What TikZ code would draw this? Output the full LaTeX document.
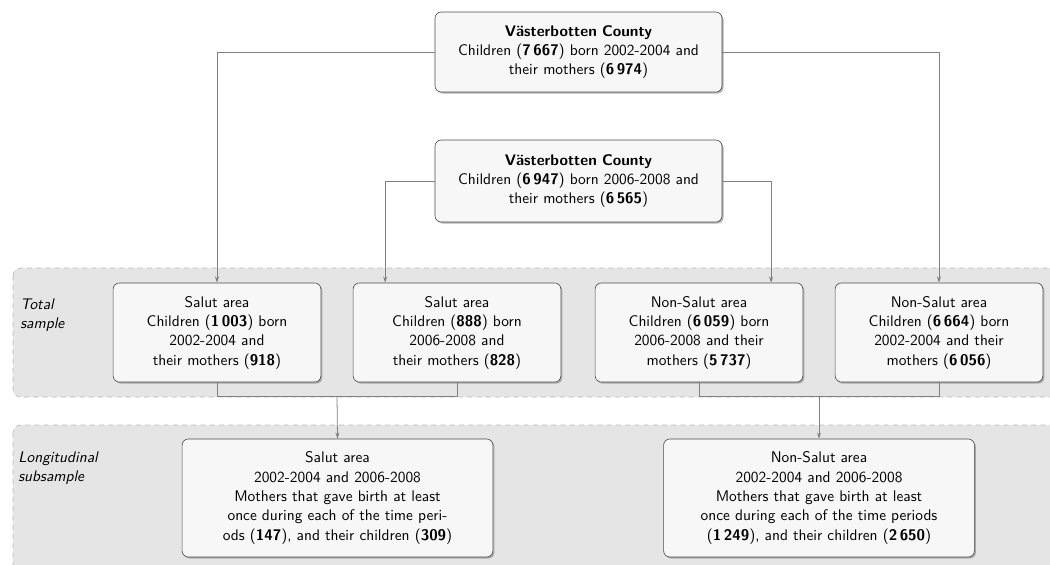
\documentclass[tikz,border=0pt]{standalone}
\usepackage{tikz}
\usetikzlibrary{arrows.meta, calc, shadows}

\tikzset{
	box/.style={draw=black!70, fill=gray!6, rounded corners=4pt, align=center,
		font=\sffamily\fontsize{10}{12.6}\selectfont, inner xsep=4pt, inner ysep=2pt,
		drop shadow={shadow xshift=1pt, shadow yshift=-1pt, opacity=0.6, fill=black!50}},
	rowbox/.style={box, text width=127pt, minimum height=64.4pt},
	longbox/.style={box, text width=194pt, minimum height=76.7pt},
	countybox/.style={box, text width=178.5pt},
	panel/.style={draw=gray!55, dashed, fill=gray!20, rounded corners=5pt},
	conn/.style={draw=gray, line width=0.5pt},
	connarr/.style={conn, -{Stealth[length=4pt,width=2.6pt]}},
	grouplabel/.style={font=\sffamily\itshape\fontsize{10}{12.6}\selectfont, align=left, anchor=west, inner sep=0pt}
}

\begin{document}
\begin{tikzpicture}[x=0.65pt, y=-0.65pt, line cap=round, line join=round]
				\useasboundingbox (0,0) rectangle (1050,564);
				
				% sample panels
				\draw[panel] (13,268) rectangle (1070,397);
				\draw[panel] (13,425) rectangle (1070,590);
				\node[grouplabel] (totlab) at (20,315) {Total\\sample};
				\node[grouplabel] (longlab) at (18,468) {Longitudinal\\subsample};
				
				% county
				\node[countybox, minimum height=52pt] (countyA) at (578.5,52)
					{\textbf{Västerbotten County}\\Children (\textbf{7\,667}) born 2002-2004 and\\their mothers (\textbf{6\,974})};
				\node[countybox, minimum height=53.3pt] (countyB) at (578.5,181)
					{\textbf{Västerbotten County}\\Children (\textbf{6\,947}) born 2006-2008 and\\their mothers (\textbf{6\,565})};
				
				% total sample
				\node[rowbox] (salA) at (217,332.5)
					{Salut area\\Children (\textbf{1\,003}) born\\2002-2004 and\\their mothers (\textbf{918})};
				\node[rowbox] (salB) at (457,332.5)
					{Salut area\\Children (\textbf{888}) born\\2006-2008 and\\their mothers (\textbf{828})};
				\node[rowbox] (nsalB) at (699,332.5)
					{Non-Salut area\\Children (\textbf{6\,059}) born\\2006-2008 and their\\mothers (\textbf{5\,737})};
				\node[rowbox] (nsalA) at (939,332.5)
					{Non-Salut area\\Children (\textbf{6\,664}) born\\2002-2004 and their\\mothers (\textbf{6\,056})};
				
				% longitudinal subsample
				\node[longbox] (salAB) at (337.5,498)
					{Salut area\\2002-2004 and 2006-2008\\Mothers that gave birth at least\\once during each of the time peri-\\ods (\textbf{147}), and their children (\textbf{309})};
				\node[longbox] (nsalAB) at (819,498)
					{Non-Salut area\\2002-2004 and 2006-2008\\Mothers that gave birth at least\\once during each of the time periods\\(\textbf{1\,249}), and their children (\textbf{2\,650})};
				
				\draw[connarr] (countyA.west) -| (salA.north);
				\draw[connarr] (countyA.east) -| (nsalA.north);
				\coordinate (salBin) at ($(salB.north west)!0.155!(salB.north east)$);
				\coordinate (nsalBin) at ($(nsalB.north west)!0.846!(nsalB.north east)$);
				\draw[connarr] (countyB.west) -| (salBin);
				\draw[connarr] (countyB.east) -| (nsalBin);
				
				\coordinate (salJ) at ($(salA.south)!0.5!(salB.south) + (0,14)$);
				\coordinate (nsalJ) at ($(nsalB.south)!0.5!(nsalA.south) + (0,14)$);
				\draw[conn] (salA.south) |- (salJ) -| (salB.south);
				\draw[conn] (nsalB.south) |- (nsalJ) -| (nsalA.south);
				\draw[connarr] (salJ) -- (salAB.north);
				\draw[connarr] (nsalJ) -- (nsalAB.north);
			\end{tikzpicture}
\end{document}
